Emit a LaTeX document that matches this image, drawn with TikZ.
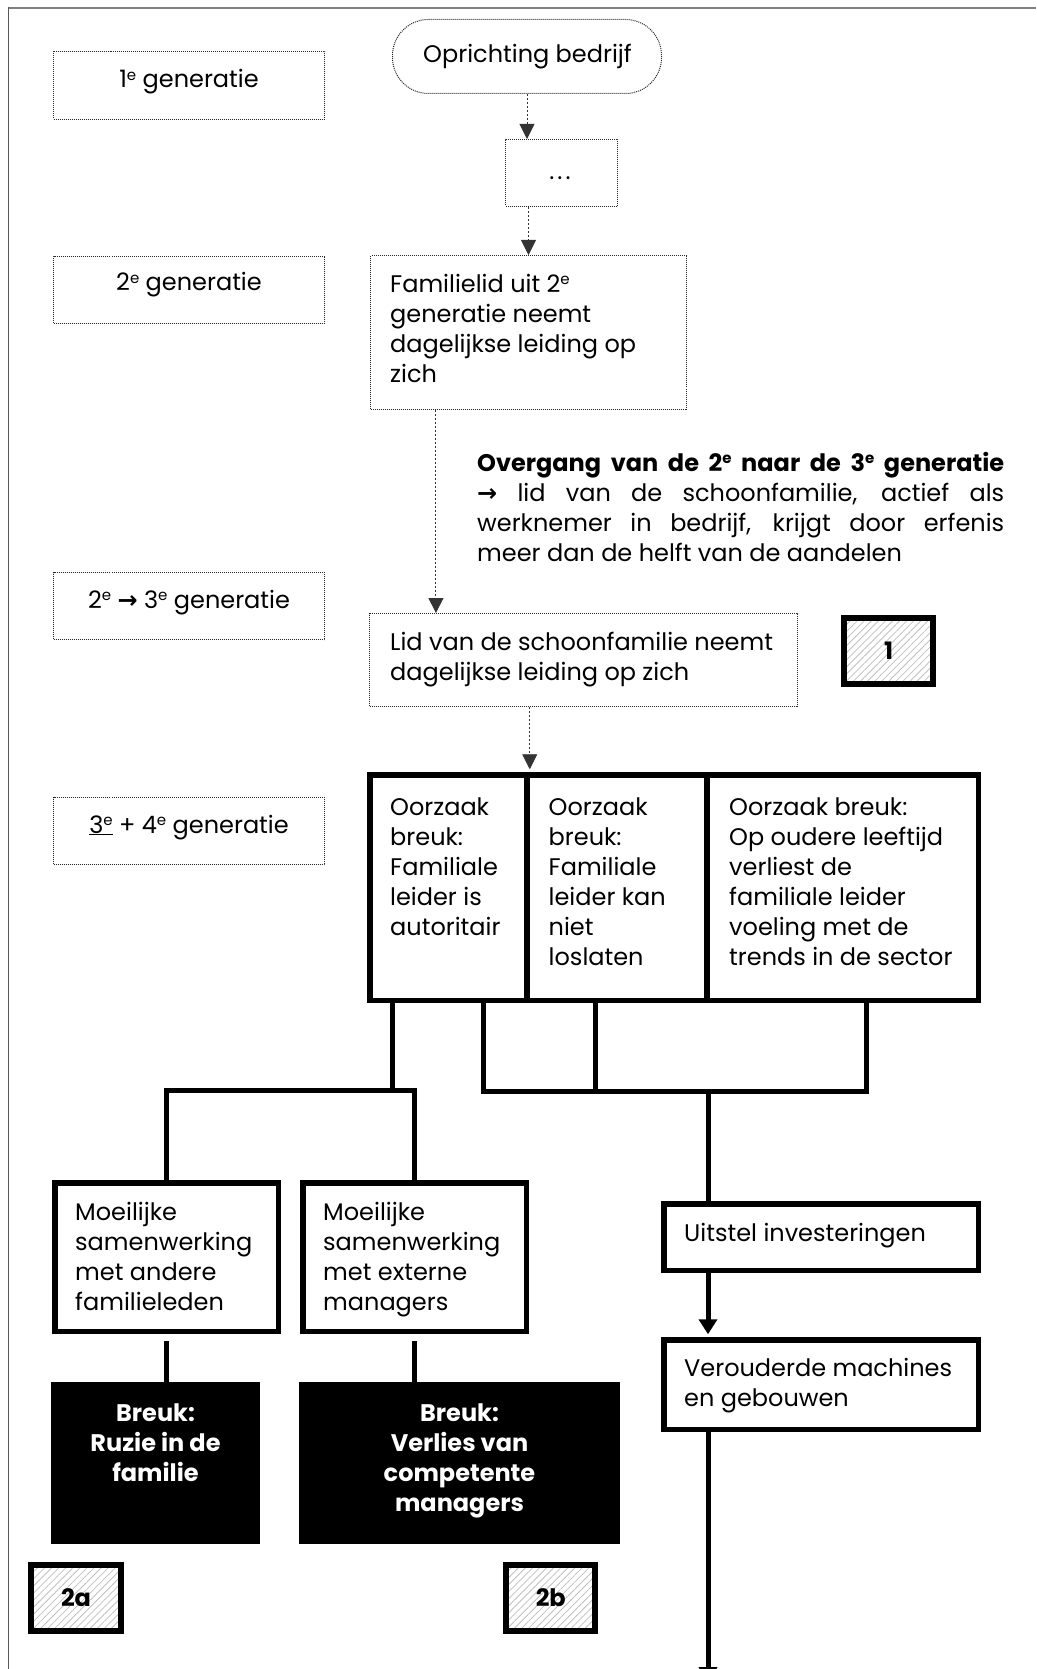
\documentclass[tikz,border=0pt]{standalone}
\usepackage{fontspec}
\setmainfont{Poppins}
\newfontfamily\symfont{DejaVu Sans}
\usetikzlibrary{arrows.meta,patterns.meta,calc}

\newcommand{\bodyfont}{\fontsize{24}{30}\selectfont}
\newcommand{\supe}{\raisebox{7.5pt}{\fontsize{15}{15}\selectfont e}}
\newcommand{\tallstrut}{\rule{0pt}{21pt}}
\newcommand{\arrowglyph}{{\symfont\bfseries →}}

\begin{document}
\begin{tikzpicture}[x=1pt,y=-1pt,
  dotbox/.style={draw=black!85, line width=1pt, dash pattern=on 1pt off 1pt, inner sep=0, rectangle},
  thickbox/.style={draw=black, line width=5.5pt, inner sep=0, rectangle},
  tagbox/.style={draw=black, line width=6pt, inner sep=0, rectangle,
    pattern={Lines[angle=45,distance=5pt,line width=0.8pt]}, pattern color=black!25,
    font=\bodyfont\bfseries},
  breukbox/.style={fill=black, inner sep=0, rectangle},
  txt/.style={inner sep=0, anchor=north west, align=left, font=\bodyfont},
  ctxt/.style={inner sep=0, anchor=base, font=\bodyfont},
  dotlink/.style={draw=black!80, line width=0.9pt, dash pattern=on 2pt off 2pt,
    -{Triangle[length=15pt,width=15pt]}},
  thicklink/.style={draw=black, line width=5pt},
  thickarrow/.style={thicklink, -{Triangle[length=15pt,width=18pt]}}
]
\useasboundingbox (0,0) rectangle (1036,1669);
\clip (0,0) rectangle (1036,1669);

% page frame
\draw[black!50, line width=2pt] (8,7.8) -- (1036,7.8);
\draw[black!65, line width=1pt] (8.5,7) -- (8.5,1669);

% generation labels
\node[dotbox, minimum width=271pt, minimum height=68pt] (g1) at (189,85.5) {};
\node[dotbox, minimum width=271pt, minimum height=67pt] (g2) at (189,290) {};
\node[dotbox, minimum width=271pt, minimum height=67pt] (g23) at (189,606) {};
\node[dotbox, minimum width=271pt, minimum height=67pt] (g34) at (189,831) {};
\node[ctxt] (t-g1) at (189,88) {1\supe{} generatie};
\node[ctxt] (t-g2) at (189,291) {2\supe{} generatie};
\node[ctxt] (t-g23) at (189,608) {2\supe{} \arrowglyph{} 3\supe{} generatie};
\node[ctxt] (t-g34) at (189,833) {\underline{3\supe} + 4\supe{} generatie};

% first steps
\node[dotbox, rounded corners=36pt, minimum width=269pt, minimum height=74pt] (start) at (527,56.5) {};
\node[ctxt] (t-start) at (527.5,63) {Oprichting bedrijf};
\node[dotbox, minimum width=112pt, minimum height=67pt] (dots) at (561.5,173) {};
\node[ctxt] (t-dots) at (560,180) {.\kern3pt.\kern3pt.};
\node[dotbox, minimum width=316pt, minimum height=154pt] (fam2) at (528.5,332.5) {};
\node[txt] (t-fam) at (390,271) {\tallstrut Familielid uit 2\supe\\generatie neemt\\dagelijkse leiding op\\zich};

\node[txt, text width=527pt, align=justify] (trans) at (477,450)
  {\tallstrut\textbf{Overgang van de 2\supe{} naar de 3\supe{} generatie}\linebreak
   \arrowglyph{} lid van de schoonfamilie, actief als\linebreak
   werknemer in bedrijf, krijgt door erfenis\linebreak
   meer dan de helft van de aandelen};

\node[dotbox, minimum width=428pt, minimum height=93pt] (lid) at (583.5,660) {};
\node[txt] (t-lid) at (390,629) {\tallstrut Lid van de schoonfamilie neemt\\dagelijkse leiding op zich};
\node[tagbox, minimum width=89pt, minimum height=66pt] (tag1) at (888.5,651) {1};

% causes
\node[thickbox, minimum width=157.25pt, minimum height=225.5pt] (cause1) at (448.375,887.5) {};
\node[thickbox, minimum width=180pt, minimum height=225.5pt] (cause2) at (617,887.5) {};
\node[thickbox, minimum width=271.25pt, minimum height=225.5pt] (cause3) at (842.625,887.5) {};
\node[txt] (t-c1) at (390,794) {\tallstrut Oorzaak\\breuk:\\Familiale\\leider is\\autoritair};
\node[txt] (t-c2) at (548.5,794) {\tallstrut Oorzaak\\breuk:\\Familiale\\leider kan\\niet\\loslaten};
\node[txt] (t-c3) at (729,794) {\tallstrut Oorzaak breuk:\\Op oudere leeftijd\\verliest de\\familiale leider\\voeling met de\\trends in de sector};

% consequences
\node[thickbox, minimum width=223.5pt, minimum height=148.5pt] (moe1) at (166.5,1257) {};
\node[thickbox, minimum width=223.5pt, minimum height=148.5pt] (moe2) at (414.5,1257) {};
\node[txt] (t-m1) at (75,1199) {\tallstrut Moeilijke\\samenwerking\\met andere\\familieleden};
\node[txt] (t-m2) at (323,1199) {\tallstrut Moeilijke\\samenwerking\\met externe\\managers};

\node[thickbox, minimum width=314.5pt, minimum height=66.5pt] (uitstel) at (821,1237) {};
\node[txt, anchor=base west] (t-u) at (684,1241) {Uitstel investeringen};
\node[thickbox, minimum width=314.5pt, minimum height=89.5pt] (verouderd) at (821,1384.5) {};
\node[txt] (t-v) at (684,1355) {\tallstrut Verouderde machines\\en gebouwen};

\node[breukbox, minimum width=209pt, minimum height=162pt] (breuk1) at (155.5,1463) {};
\node[breukbox, minimum width=321pt, minimum height=162pt] (breuk2) at (459.5,1463) {};
\node[txt, anchor=north, align=center, text=white, font=\bodyfont\bfseries] (t-b1) at (155.5,1400)
  {\tallstrut Breuk:\\Ruzie in de\\familie};
\node[txt, anchor=north, align=center, text=white, font=\bodyfont\bfseries] (t-b2) at (459.5,1400)
  {\tallstrut Breuk:\\Verlies van\\competente\\managers};

\node[tagbox, minimum width=90pt, minimum height=66pt] (tag2a) at (76,1598) {2a};
\node[tagbox, minimum width=89pt, minimum height=66pt] (tag2b) at (550.75,1598) {2b};

% dotted flow
\draw[dotlink] (start.south) -- (start.south |- dots.north);
\draw[dotlink] (fam2.north |- dots.south) -- (fam2.north);
\coordinate (famout) at ($(fam2.south west)!0.208!(fam2.south east)$);
\draw[dotlink] (famout) -- (famout |- lid.north);
\draw[dotlink, shorten >=2.75pt] (cause1.north east |- lid.south) -- (cause1.north east);

% thick connectors
\coordinate (a1) at (392,1090);
\draw[thicklink] (cause1.south -| a1) -- (a1);
\draw[thicklink] (moe1.north) -- (moe1.north |- a1) -- (moe2.north |- a1) -- (moe2.north);

\coordinate (b1) at (483,1091);
\coordinate (b2) at (595,1091);
\coordinate (b3) at (866,1091);
\coordinate (bm) at (708,1091);
\draw[thicklink] (cause1.south -| b1) -- (b1) -- (b3) -- (cause3.south -| b3);
\draw[thicklink] (cause2.south -| b2) -- (b2);
\draw[thicklink] (bm) -- (uitstel.north -| bm);
\draw[thickarrow, shorten >=2.75pt] (uitstel.south -| bm) -- (verouderd.north -| bm);
\coordinate (pageend) at (708,1682);
\draw[thickarrow] (verouderd.south -| bm) -- (pageend);

\draw[thicklink, shorten <=7pt] (moe1.south) -- (moe1.south |- breuk1.north);
\draw[thicklink, shorten <=7pt] (moe2.south) -- (moe2.south |- breuk2.north);
\end{tikzpicture}
\end{document}
